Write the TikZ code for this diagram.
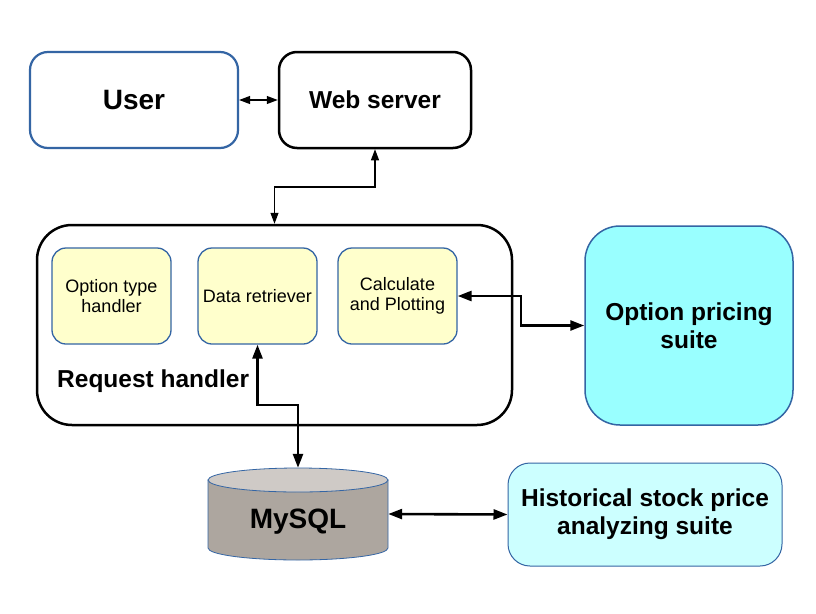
\documentclass[tikz,border=0pt]{standalone}
\usepackage{fontspec}
\setmainfont{Liberation Sans}
\usetikzlibrary{arrows.meta}
\definecolor{bblue}{HTML}{3465A4}
\definecolor{yfill}{HTML}{FFFFCC}
\definecolor{cfill}{HTML}{99FFFF}
\definecolor{lcfill}{HTML}{CCFFFF}
\definecolor{dbbody}{HTML}{ADA69F}
\definecolor{dbtop}{HTML}{CFCAC6}
\tikzset{
  box/.style={draw, inner sep=0pt, align=center},
  bigtxt/.style={font=\fontsize{28}{32}\selectfont\bfseries},
  medtxt/.style={font=\fontsize{24.5}{28}\selectfont\bfseries},
  smalltxt/.style={font=\fontsize{18}{20}\selectfont},
  inner/.style={box, draw=bblue, line width=1.3pt, fill=yfill, rounded corners=14pt,
    minimum width=119pt, minimum height=96pt, smalltxt},
  thinarrow/.style={line width=1.1pt, {Triangle[length=11pt,width=8pt]}-{Triangle[length=11pt,width=8pt]}},
  thickarrow/.style={line width=2.6pt, {Triangle[length=14pt,width=10pt]}-{Triangle[length=14pt,width=10pt]}},
}
\begin{document}
\begin{tikzpicture}[x=1pt,y=-1pt]
\useasboundingbox (0,0) rectangle (816,613);
\fill[white] (0,0) rectangle (816,613);

% top row
\node[box, draw=bblue, line width=2.2pt, rounded corners=18pt, minimum width=208pt, minimum height=96pt, bigtxt] (user) at (134,100) {User};
\node[box, line width=2.5pt, rounded corners=18pt, minimum width=192pt, minimum height=96pt, medtxt] (ws) at (375,100) {Web server};

% request handler
\node[box, line width=2.5pt, rounded corners=35pt, minimum width=475pt, minimum height=200pt] (req) at (274.5,325) {};
\node[inner] (oth) at (111.5,296) {Option type\\handler};
\node[inner] (dr) at (257.5,296) {Data retriever};
\node[inner] (calc) at (397.5,296) {Calculate\\and Plotting};
\node[anchor=west, inner sep=0pt, medtxt] (rhl) at (57,381) {Request handler};

% option pricing
\node[box, draw=bblue, line width=1.5pt, fill=cfill, rounded corners=35pt, minimum width=208pt, minimum height=199pt, medtxt] (opt) at (689,325.5) {Option pricing\\suite};

% MySQL cylinder
\node[inner sep=0pt, minimum width=180pt, minimum height=92pt] (mysql) at (298,514) {};
\filldraw[draw=bblue, line width=0.8pt, fill=dbbody] (208,480) -- (208,548)
  arc[start angle=180, end angle=0, x radius=90, y radius=12] -- (388,480) -- cycle;
\filldraw[draw=bblue, line width=0.8pt, fill=dbtop] (298,480) ellipse [x radius=90, y radius=12];
\node[bigtxt, inner sep=0pt] (mysqltxt) at (298,522) {MySQL};

% historical
\node[box, draw=bblue, line width=1pt, fill=lcfill, rounded corners=22pt, minimum width=274pt, minimum height=103pt, medtxt] (hist) at (645,514.5) {Historical stock price\\analyzing suite};

% junction coordinates
\coordinate (j1) at (0,187);
\coordinate (j2) at (521,0);
\coordinate (j3) at (0,405);

% connectors
\draw[thinarrow] (user.east) -- (ws.west);
\draw[thinarrow] (ws.south) -- (ws.south |- j1) -| (req.north);
\draw[thickarrow] (calc.east) -- (calc.east -| j2) |- (opt.west);
\draw[thickarrow] (dr.south) -- (dr.south |- j3) -| (mysql.north);
\draw[thickarrow] (mysql.east) -- (hist.west);
\end{tikzpicture}
\end{document}
